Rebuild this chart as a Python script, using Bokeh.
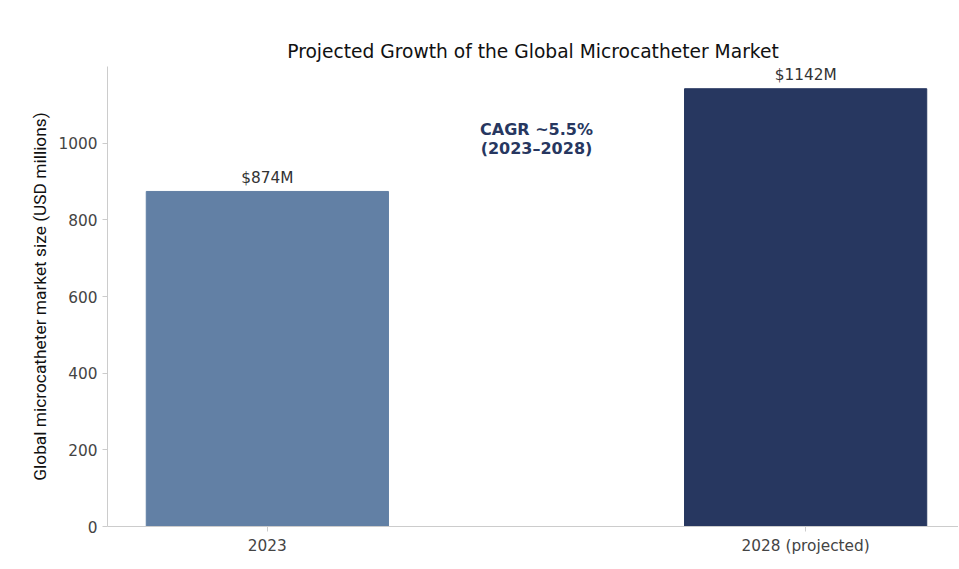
from bokeh.plotting import figure
from bokeh.models import ColumnDataSource, Range1d, Title
from bokeh.core.properties import value
from bokeh.embed import file_html
from bokeh.resources import INLINE

categories = ["2023", "2028 (projected)"]
values = [874, 1142]
colors = ["#6280a5", "#273760"]
labels = ["$874M", "$1142M"]
xs = [0, 1]

src = ColumnDataSource(dict(x=xs, top=values, color=colors, label=labels,
                            ly=[v + 12 for v in values]))

p = figure(width=958, height=560, output_backend="svg", toolbar_location=None,
           x_range=Range1d(-0.297, 1.284), y_range=Range1d(0, 1200),
           min_border_left=107, min_border_right=0, min_border_top=66, min_border_bottom=34)
p.title = Title(text="Projected Growth of the Global Microcatheter Market", align="center",
                text_font="DejaVu Sans", text_font_size="14pt", text_font_style="normal",
                text_color="#111111")
p.vbar(x="x", top="top", width=0.45, color="color", source=src)
p.text(x="x", y="ly", text="label", source=src, text_align="center", text_baseline="bottom",
       text_font=value("DejaVu Sans"), text_font_size="11.5pt", text_color="#333333")
p.text(x=[0.5], y=[1010], text=["CAGR ~5.5%\n(2023–2028)"], text_align="center",
       text_baseline="middle", text_font=value("DejaVu Sans"), text_font_size="12pt",
       text_font_style="bold", text_color="#273760", text_line_height=1.0)

p.xaxis.ticker = xs
p.xaxis.major_label_overrides = {0: categories[0], 1: categories[1]}
p.yaxis.ticker = [0, 200, 400, 600, 800, 1000]
for ax in (p.xaxis, p.yaxis):
    ax.major_label_text_font = "DejaVu Sans"
    ax.major_label_text_font_size = "11.5pt"
    ax.major_label_text_color = "#444444"
    ax.axis_line_color = "#cccccc"
    ax.major_tick_line_color = "#cccccc"
    ax.minor_tick_line_color = None
    ax.major_tick_out = 5
    ax.major_tick_in = 0
p.yaxis.axis_label = "Global microcatheter market size (USD millions)"
p.yaxis.axis_label_text_font = "Roboto"
p.yaxis.axis_label_text_font_style = "normal"
p.yaxis.axis_label_text_font_size = "13pt"
p.yaxis.axis_label_text_color = "#111111"
p.xgrid.visible = False
p.ygrid.visible = False
p.outline_line_color = None

open("out.html", "w").write(file_html(p, INLINE))
